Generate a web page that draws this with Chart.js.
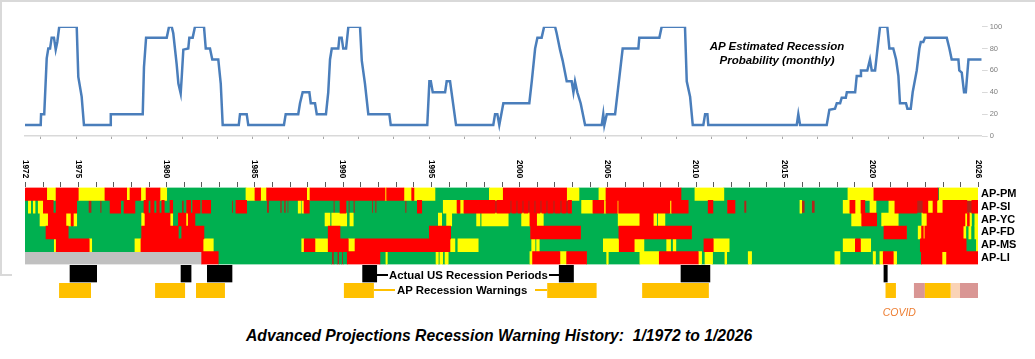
<!DOCTYPE html>
<html><head><meta charset="utf-8">
<script src="https://cdn.jsdelivr.net/npm/chart.js@4.4.1/dist/chart.umd.min.js"></script>
<style>
html,body{margin:0;padding:0;background:#fff;width:1035px;height:359px;overflow:hidden;font-family:'Liberation Sans',Arial,sans-serif;}
#wrap{position:relative;width:1035px;height:359px;}
canvas{position:absolute;left:0;}
.t{position:absolute;white-space:pre;line-height:1;z-index:5;}
.ln{position:absolute;z-index:5;}
</style></head>
<body><div id="wrap">
<div class="ln" style="left:0;top:0;width:1035px;height:1.5px;background:#d9d9d9"></div>
<div class="ln" style="left:0;top:0;width:1.5px;height:275px;background:#d9d9d9"></div>
<div class="ln" style="left:0;top:274px;width:12px;height:1.5px;background:#d9d9d9"></div>
<canvas id="cA" width="1035" height="150" style="top:0"></canvas>
<canvas id="cB" width="1035" height="125" style="top:150px"></canvas>
<canvas id="cC" width="1035" height="60" style="top:255px"></canvas>
<div class="t" style="left:701px;top:40.4px;width:152px;text-align:center;font:italic bold 11.5px 'Liberation Sans',Arial,sans-serif;">AP Estimated Recession</div>
<div class="t" style="left:701px;top:54.2px;width:152px;text-align:center;font:italic bold 11.5px 'Liberation Sans',Arial,sans-serif;">Probability (monthly)</div>
<div class="ln" style="left:376.7px;top:274.3px;width:11.5px;height:1.5px;background:#000"></div>
<div class="t" style="left:389px;top:269.4px;font:bold 11.4px 'Liberation Sans',Arial,sans-serif;">Actual US Recession Periods</div>
<div class="ln" style="left:549px;top:274.3px;width:10.5px;height:1.5px;background:#000"></div>
<div class="ln" style="left:374px;top:289.3px;width:21px;height:1.5px;background:#ffc000"></div>
<div class="t" style="left:397px;top:283.9px;font:bold 11.4px 'Liberation Sans',Arial,sans-serif;">AP Recession Warnings</div>
<div class="ln" style="left:535px;top:289.3px;width:12px;height:1.5px;background:#ffc000"></div>
<div class="t" style="left:882.7px;top:306px;color:#ed7d31;font:italic 10.5px 'Liberation Sans',Arial,sans-serif;">COVID</div>
<div class="t" style="left:246px;top:326.5px;font:italic bold 15.7px 'Liberation Sans',Arial,sans-serif;">Advanced Projections Recession Warning History:  1/1972 to 1/2026</div>
</div>
<script>
// ---------- DATA ----------
const probYears = [1972.00,1972.89,1972.91,1973.09,1973.23,1973.32,1973.42,1973.51,1973.64,1973.74,
1973.83,1973.94,1974.93,1975.02,1975.21,1975.34,1976.82,1976.86,1978.67,1978.74,
1978.86,1980.03,1980.16,1980.31,1980.40,1980.59,1980.69,1980.82,1980.88,1980.97,
1981.25,1981.31,1981.50,1981.63,1982.14,1982.24,1982.48,1982.61,1982.95,1983.09,
1983.20,1984.11,1984.18,1984.56,1984.65,1986.67,1986.77,1987.48,1987.58,1987.73,
1988.11,1988.19,1988.43,1988.53,1989.05,1989.18,1989.28,1989.38,1989.75,1989.81,
1989.94,1990.03,1990.19,1990.32,1990.98,1991.08,1991.26,1991.45,1992.64,1992.72,
1994.79,1994.91,1994.99,1995.10,1995.80,1995.89,1996.08,1996.42,1998.53,1998.63,
1998.76,1998.87,1999.10,2000.57,2000.71,2000.90,2001.03,2001.27,2001.41,2002.03,
2002.12,2002.31,2002.46,2002.69,2002.97,2003.07,2003.16,2003.29,2003.48,2003.73,
2004.67,2004.76,2004.82,2004.96,2005.43,2005.86,2006.75,2006.80,2007.94,2008.07,
2009.39,2009.49,2009.68,2009.83,2010.43,2010.53,2010.66,2010.71,2015.72,2015.81,
2015.91,2017.42,2017.57,2017.89,2017.99,2018.18,2018.27,2018.50,2018.56,2019.03,
2019.12,2019.31,2019.36,2019.72,2019.87,2019.97,2020.16,2020.29,2020.44,2020.85,
2020.97,2021.19,2021.35,2021.48,2021.57,2021.91,2021.99,2022.18,2022.29,2022.52,
2022.67,2022.75,2022.89,2022.99,2024.22,2024.37,2024.50,2024.88,2024.93,2025.07,
2025.20,2025.30,2025.45,2026.20];
const probValues = [10,10,20,20,71,80,80,90,90,79,
86,100,100,54,36,10,10,20,20,63,
90,90,100,100,94,66,48,39,54,79,
80,90,90,100,100,80,80,70,70,48,
10,10,20,20,10,10,20,20,30,40,
40,30,30,20,20,40,70,80,80,90,
90,80,80,100,100,69,48,20,20,10,
10,50,50,40,40,50,50,10,10,20,
20,10,30,30,50,80,90,90,100,100,
94,79,69,50,50,40,50,40,30,10,
10,20,10,20,20,80,80,90,90,100,
100,50,36,10,10,20,20,10,10,20,
10,10,24,25,30,30,35,35,40,40,
55,55,60,60,70,60,60,79,100,100,
80,80,70,55,30,30,25,25,40,60,
80,86,86,90,90,80,70,70,60,58,
40,40,70,70];

const heatRows = ['AP-PM','AP-SI','AP-YC','AP-FD','AP-MS','AP-LI'];
const yearLabels = [1972,1975,1980,1985,1990,1995,2000,2005,2010,2015,2020,2026];
const lastYear = 2026;

// [start year, signal]  G=green Y=yellow R=red D=dark red X=n/a
const pmSegments = [[1972.00,'R'],[1973.23,'Y'],[1973.76,'R'],[1975.02,'Y'],[1976.53,'R'],[1977.76,'Y'],[1977.95,'R'],[1978.56,'Y'],[1978.86,'R'],[1979.65,'Y'],[1980.03,'G'],[1984.52,'Y'],[1985.03,'R'],[1985.35,'Y'],[1985.69,'R'],[1987.96,'Y'],[1988.15,'R'],[1992.40,'Y'],[1992.49,'R'],[1993.47,'Y'],[1993.91,'R'],[1994.04,'Y'],[1995.23,'G'],[1998.31,'Y'],[1999.10,'R'],[2002.69,'Y'],[2003.39,'G'],[2004.52,'Y'],[2004.92,'R'],[2009.17,'G'],[2009.96,'Y'],[2011.60,'G'],[2018.63,'Y'],[2020.10,'R'],[2023.73,'G'],[2023.81,'Y']];
const siSegments = [[1972.00,'G'],[1972.19,'Y'],[1972.32,'G'],[1972.47,'Y'],[1972.57,'G'],[1972.75,'Y'],[1973.04,'R'],[1973.60,'G'],[1973.76,'R'],[1974.93,'G'],[1975.59,'D'],[1975.78,'G'],[1976.25,'D'],[1976.35,'G'],[1976.82,'R'],[1977.42,'G'],[1977.61,'R'],[1978.23,'G'],[1978.74,'R'],[1978.99,'G'],[1979.12,'R'],[1979.31,'G'],[1979.46,'R'],[1979.61,'G'],[1979.75,'R'],[1979.89,'G'],[1980.22,'R'],[1980.37,'G'],[1980.88,'D'],[1981.01,'G'],[1981.16,'R'],[1981.39,'G'],[1981.50,'R'],[1981.92,'G'],[1982.03,'R'],[1982.52,'G'],[1983.71,'D'],[1983.80,'G'],[1983.95,'R'],[1984.56,'G'],[1985.69,'D'],[1985.84,'G'],[1986.45,'D'],[1986.56,'G'],[1986.67,'D'],[1986.79,'G'],[1986.86,'D'],[1986.94,'G'],[1987.48,'Y'],[1987.62,'G'],[1987.69,'Y'],[1987.81,'R'],[1988.11,'G'],[1989.47,'D'],[1989.56,'G'],[1989.85,'R'],[1990.19,'G'],[1990.32,'D'],[1990.41,'G'],[1990.60,'D'],[1990.70,'G'],[1991.64,'D'],[1991.73,'G'],[1991.83,'D'],[1991.93,'G'],[1993.53,'D'],[1993.63,'G'],[1994.23,'R'],[1994.48,'G'],[1995.70,'Y'],[1996.48,'R'],[1996.65,'Y'],[1996.87,'R'],[1998.63,'D'],[1998.74,'R'],[1999.48,'D'],[1999.59,'R'],[1999.82,'D'],[1999.93,'R'],[2000.16,'D'],[2000.27,'R'],[2000.50,'D'],[2000.61,'R'],[2000.84,'D'],[2000.95,'R'],[2001.18,'D'],[2001.29,'R'],[2001.52,'D'],[2001.63,'R'],[2001.92,'D'],[2002.03,'R'],[2002.31,'D'],[2002.43,'R'],[2002.65,'D'],[2002.77,'R'],[2002.97,'G'],[2003.54,'Y'],[2004.18,'R'],[2004.80,'Y'],[2004.92,'R'],[2005.56,'Y'],[2005.64,'R'],[2008.54,'Y'],[2008.64,'R'],[2009.58,'G'],[2010.71,'R'],[2010.98,'G'],[2011.81,'R'],[2012.23,'G'],[2012.74,'D'],[2012.89,'G'],[2015.91,'Y'],[2016.01,'D'],[2016.19,'G'],[2016.57,'D'],[2016.76,'G'],[2018.36,'Y'],[2018.74,'R'],[2019.03,'Y'],[2019.37,'R'],[2019.59,'G'],[2019.88,'Y'],[2020.22,'G'],[2020.95,'Y'],[2021.29,'R'],[2022.54,'D'],[2022.88,'R'],[2023.16,'Y'],[2023.45,'R'],[2023.67,'Y'],[2024.01,'R'],[2025.37,'D'],[2025.65,'R']];
const ycSegments = [[1972.00,'G'],[1972.85,'Y'],[1973.32,'R'],[1974.32,'Y'],[1974.61,'R'],[1974.74,'Y'],[1974.93,'G'],[1978.61,'Y'],[1978.80,'R'],[1980.22,'Y'],[1980.37,'G'],[1980.69,'R'],[1981.12,'Y'],[1981.25,'R'],[1981.63,'G'],[1989.00,'Y'],[1989.28,'G'],[1989.38,'Y'],[1990.23,'G'],[1990.41,'Y'],[1990.60,'G'],[1995.42,'Y'],[1995.61,'G'],[1995.89,'Y'],[1996.18,'G'],[1997.59,'Y'],[1997.78,'G'],[1997.88,'Y'],[1999.38,'G'],[2000.14,'Y'],[2000.61,'R'],[2000.99,'Y'],[2001.37,'G'],[2005.61,'Y'],[2006.84,'R'],[2007.60,'Y'],[2007.79,'G'],[2007.88,'Y'],[2008.26,'G'],[2018.84,'Y'],[2019.41,'R'],[2020.26,'G'],[2020.54,'Y'],[2021.48,'G'],[2022.82,'Y'],[2023.11,'R'],[2025.26,'Y'],[2025.40,'R'],[2025.51,'Y'],[2025.63,'G'],[2025.82,'Y']];
const fdSegments = [[1972.00,'G'],[1973.19,'R'],[1974.45,'G'],[1978.61,'R'],[1980.69,'G'],[1980.88,'R'],[1982.14,'G'],[1989.18,'R'],[1989.85,'G'],[1994.91,'R'],[1996.12,'G'],[2000.65,'R'],[2003.48,'G'],[2005.65,'R'],[2009.77,'G'],[2020.67,'R'],[2021.95,'G'],[2022.61,'Y'],[2022.80,'R'],[2022.90,'Y'],[2022.99,'R'],[2025.16,'Y'],[2025.31,'G'],[2025.48,'Y'],[2025.60,'G'],[2025.82,'Y']];
const msSegments = [[1972.00,'G'],[1973.66,'Y'],[1973.77,'R'],[1975.64,'Y'],[1975.78,'G'],[1978.23,'Y'],[1978.57,'R'],[1982.09,'Y'],[1982.67,'G'],[1987.68,'Y'],[1987.82,'R'],[1988.43,'Y'],[1989.18,'R'],[1990.32,'Y'],[1990.70,'R'],[1996.08,'Y'],[1996.36,'G'],[1996.53,'Y'],[1997.68,'G'],[2000.71,'Y'],[2000.90,'G'],[2000.99,'Y'],[2001.14,'G'],[2004.77,'Y'],[2005.67,'R'],[2006.52,'Y'],[2007.07,'G'],[2008.36,'Y'],[2008.58,'G'],[2008.73,'Y'],[2008.88,'G'],[2010.47,'R'],[2011.00,'Y'],[2011.90,'G'],[2018.36,'Y'],[2019.05,'R'],[2019.34,'Y'],[2019.92,'G'],[2022.73,'R'],[2025.33,'G'],[2025.91,'Y']];
const liSegments = [[1972.00,'X'],[1982.01,'R'],[1982.95,'G'],[1989.38,'D'],[1989.51,'G'],[1989.69,'D'],[1989.81,'G'],[1989.94,'D'],[1990.03,'G'],[1990.26,'R'],[1992.11,'G'],[1992.45,'Y'],[1992.53,'G'],[1995.29,'Y'],[1995.42,'G'],[1995.51,'Y'],[1995.67,'G'],[1995.80,'Y'],[1995.98,'G'],[2000.61,'Y'],[2000.76,'R'],[2002.31,'Y'],[2002.69,'R'],[2003.82,'G'],[2004.96,'Y'],[2005.05,'G'],[2006.84,'Y'],[2007.94,'R'],[2010.15,'Y'],[2010.34,'G'],[2010.53,'Y'],[2010.96,'G'],[2011.66,'Y'],[2011.76,'G'],[2012.98,'Y'],[2013.17,'G'],[2017.89,'Y'],[2018.18,'G'],[2020.06,'Y'],[2020.19,'G'],[2020.44,'Y'],[2020.63,'R'],[2021.20,'Y'],[2021.39,'G'],[2022.79,'R'],[2023.96,'Y'],[2024.22,'R']];

const recessionStarts = [1974.55,1980.84,1982.33,1991.13,2002.27,2009.17,2020.67];
const recessionEnds   = [1976.06,1981.41,1983.73,1991.93,2003.08,2010.81,2020.86];
const warningStarts = [1973.93,1979.37,1981.69,1990.07,2001.59,2006.97,2020.76,2022.37,2022.99,2024.45,2024.98];
const warningEnds   = [1975.74,1981.07,1983.33,1991.77,2004.39,2010.75,2021.35,2022.99,2024.45,2024.98,2026.00];
const warningLevels = ['W','W','W','W','W','W','W','P','W','L','P'];

// ---------- STYLE ----------
const FONT = "'Liberation Sans', Arial, sans-serif";
const signalColors = {G:'#00b050', Y:'#ffff00', R:'#ff0000', D:'#b3251a', X:'#c0c0c0'};
const warningColors = {W:'#ffc000', P:'#d99694', L:'#fad3b6'};

// ---------- CHART A: probability line ----------
new Chart(document.getElementById('cA'), {
  type: 'line',
  data: { datasets: [{
    data: probYears.map((x, i) => ({x, y: probValues[i]})),
    borderColor: '#4a7ebb', borderWidth: 2.5, pointRadius: 0, tension: 0, fill: false
  }]},
  options: {
    responsive: false, animation: false, devicePixelRatio: 1,
    layout: { padding: { left: 25, right: 0, top: 26.7, bottom: 0 } },
    plugins: { legend: { display: false }, tooltip: { enabled: false } },
    scales: {
      x: { type: 'linear', min: 1972, max: 2026.2,
        afterBuildTicks(s) { const t = []; for (let v = 1972.9; v < 2026.2; v += 2) t.push({value: v}); s.ticks = t; },
        ticks: { display: false },
        grid: { drawOnChartArea: false, tickLength: 3, color: '#a6a6a6' },
        border: { color: '#d9d9d9', width: 1.5 },
        afterFit(s) { s.height = 14; } },
      y: { position: 'right', min: 0, max: 100,
        ticks: { stepSize: 20, color: '#7f7f7f', padding: 2, font: { family: FONT, size: 7.5 } },
        grid: { drawOnChartArea: false, tickLength: 6, color: '#d9d9d9' },
        border: { display: false },
        afterFit(s) { s.width = 53.3; } }
    }
  }
});

// ---------- CHART B: heatmap ----------
const rowSegments = [pmSegments, siSegments, ycSegments, fdSegments, msSegments, liSegments];
const bySignal = {};
rowSegments.forEach((segs, ri) => {
  segs.forEach((s, i) => {
    const end = i + 1 < segs.length ? segs[i + 1][0] : lastYear;
    (bySignal[s[1]] = bySignal[s[1]] || []).push({ x: [s[0], end], y: heatRows[ri] });
  });
});
const heatDatasets = Object.keys(bySignal).map(k => ({
  data: bySignal[k], backgroundColor: signalColors[k], borderWidth: 0,
  grouped: false, barPercentage: 1, categoryPercentage: 1
}));

const yearAxis = {
  id: 'yearAxis',
  afterDraw(chart) {
    const ctx = chart.ctx, xs = chart.scales.x, top = chart.chartArea.top;
    ctx.save();
    ctx.strokeStyle = '#5a5a5a'; ctx.lineWidth = 1;
    for (let y = yearLabels[0]; y <= yearLabels[yearLabels.length - 1]; y++) {
      const px = Math.round(xs.getPixelForValue(y)) + 0.5;
      ctx.beginPath(); ctx.moveTo(px, top - 5.5); ctx.lineTo(px, top - 0.5); ctx.stroke();
    }
    ctx.fillStyle = '#000';
    ctx.font = 'bold 8.2px ' + FONT;
    ctx.textAlign = 'left'; ctx.textBaseline = 'middle';
    yearLabels.forEach(y => {
      const px = xs.getPixelForValue(y);
      ctx.save(); ctx.translate(px, top - 27.5); ctx.rotate(Math.PI / 2);
      ctx.fillText(String(y), 0, 0); ctx.restore();
    });
    ctx.restore();
  }
};

new Chart(document.getElementById('cB'), {
  type: 'bar',
  data: { labels: heatRows, datasets: heatDatasets },
  options: {
    indexAxis: 'y', responsive: false, animation: false, devicePixelRatio: 1,
    layout: { padding: { left: 25, right: 0, top: 37.5, bottom: 10.5 } },
    plugins: { legend: { display: false }, tooltip: { enabled: false } },
    scales: {
      x: { type: 'linear', min: 1972, max: lastYear, display: false },
      y: { position: 'right',
        grid: { display: false, drawTicks: false }, border: { display: false },
        ticks: { color: '#000', padding: 3, autoSkip: false, font: { family: FONT, size: 11, weight: 'bold' } },
        afterFit(s) { s.width = 57; } }
    }
  },
  plugins: [yearAxis]
});

// ---------- CHART C: recessions & warnings ----------
const warnDatasets = Object.keys(warningColors).map(k => ({
  data: warningStarts.map((s, i) => ({ x: [s, warningEnds[i]], y: 'warn', k: warningLevels[i] })).filter(d => d.k === k),
  backgroundColor: warningColors[k], borderWidth: 0, grouped: false, barPercentage: 0.88, categoryPercentage: 1
}));
new Chart(document.getElementById('cC'), {
  type: 'bar',
  data: { labels: ['rec', 'warn'], datasets: [
    { data: recessionStarts.map((s, i) => ({ x: [s, recessionEnds[i]], y: 'rec' })),
      backgroundColor: '#000', borderWidth: 0, grouped: false, barPercentage: 1, categoryPercentage: 1 },
    ...warnDatasets
  ]},
  options: {
    indexAxis: 'y', responsive: false, animation: false, devicePixelRatio: 1,
    layout: { padding: { left: 25, right: 57, top: 10, bottom: 16 } },
    plugins: { legend: { display: false }, tooltip: { enabled: false } },
    scales: {
      x: { type: 'linear', min: 1972, max: lastYear, display: false },
      y: { display: false }
    }
  }
});
</script>
</body></html>
